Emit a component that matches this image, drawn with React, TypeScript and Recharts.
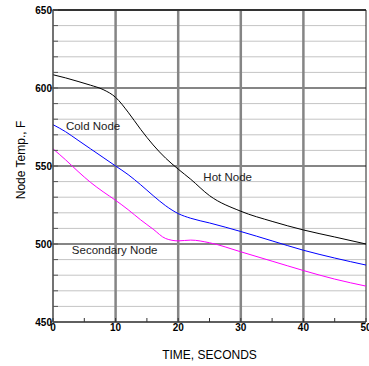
import {
  LineChart,
  Line,
  XAxis,
  YAxis,
  CartesianGrid,
  ReferenceLine,
  ReferenceDot,
  Label,
} from 'recharts';

const times = [0, 2, 4, 6, 8, 10, 12, 14, 16, 18, 20, 22, 25, 30, 35, 40, 45, 50];
const hotNode = [608.5, 606.5, 604.2, 601.8, 599, 594, 584.5, 573.5, 563.5, 555, 548, 541.5, 531, 521, 514.5, 509, 504.5, 500];
const coldNode = [576.5, 572, 566.5, 561, 555.5, 550, 544.5, 538, 531, 524.5, 519.5, 516.5, 513.5, 508, 502, 496, 491, 486.5];
const secondaryNode = [561, 554, 546.5, 539.5, 533.5, 528, 522, 515.5, 509.5, 503.5, 502, 502.5, 500.8, 495, 489, 483, 477.5, 473];

const xTicks = [0, 5, 10, 15, 20, 25, 30, 35, 40, 45, 50];
const yTicks = [450, 460, 470, 480, 490, 500, 510, 520, 530, 540, 550, 560, 570, 580, 590, 600, 610, 620, 630, 640, 650];
const majorX = [10, 20, 30, 40];
const majorY = [500, 550, 600];

const data = times.map((t, i) => ({
  t,
  hot: hotNode[i],
  cold: coldNode[i],
  sec: secondaryNode[i],
}));

const FONT = '"Liberation Sans", Arial, sans-serif';
const MAJOR = '#858585';
const MINOR = '#c4c4c4';

const BottomTick = (props: any) => {
  const { x, y, payload } = props;
  const v = payload.value;
  const major = v % 10 === 0;
  return (
    <g>
      <line x1={x} x2={x} y1={y} y2={y - 4} stroke="#333" />
      {major && (
        <text x={x} y={y + 9} textAnchor="middle" fontSize={10} fontWeight="bold" fontFamily={FONT} fill="#000">
          {v}
        </text>
      )}
    </g>
  );
};

const TopTick = (props: any) => {
  const { x, y } = props;
  return <line x1={x} x2={x} y1={y} y2={y + 4} stroke="#333" />;
};

const LeftTick = (props: any) => {
  const { x, y, payload } = props;
  const v = payload.value;
  const major = v % 50 === 0;
  return (
    <g>
      <line x1={major ? x - 3 : x} x2={x + 5} y1={y} y2={y} stroke="#555" />
      {major && (
        <text x={x - 1} y={y} dy="0.35em" textAnchor="end" fontSize={10} fontWeight="bold" fontFamily={FONT} fill="#000">
          {v}
        </text>
      )}
    </g>
  );
};

const App = () => {
  return (
    <div style={{ position: 'absolute', left: 0, top: 0, background: '#fff' }}>
      <LineChart width={369} height={366} data={data} margin={{ top: 10, right: 3, left: 0, bottom: 0 }}>
        <CartesianGrid vertical={false} stroke={MINOR} strokeWidth={1} />
        {majorY.map((v) => (
          <ReferenceLine key={'y' + v} y={v} stroke={MAJOR} strokeWidth={2} />
        ))}
        {majorX.map((v) => (
          <ReferenceLine key={'x' + v} x={v} stroke={MAJOR} strokeWidth={2.5} />
        ))}
        <ReferenceLine y={650} stroke="#333" strokeWidth={2} />
        <ReferenceLine x={50} stroke="#222" strokeWidth={1} />
        <XAxis
          dataKey="t"
          type="number"
          domain={[0, 50]}
          ticks={xTicks}
          height={44}
          tickSize={0}
          tickMargin={0}
          axisLine={{ stroke: '#333', strokeWidth: 1.5 }}
          tickLine={false}
          tick={<BottomTick />}
          interval={0}
        >
          <Label
            content={(p: any) => {
              const vb = p.viewBox;
              return (
                <text x={vb.x + vb.width / 2} y={vb.y + 37} textAnchor="middle" fontSize={12} fontFamily={FONT} fill="#000">
                  TIME, SECONDS
                </text>
              );
            }}
          />
        </XAxis>
        <XAxis
          xAxisId="top"
          orientation="top"
          type="number"
          domain={[0, 50]}
          ticks={xTicks}
          height={0}
          tickSize={0}
          tickMargin={0}
          axisLine={false}
          tickLine={false}
          tick={<TopTick />}
          interval={0}
        />
        <YAxis
          type="number"
          domain={[450, 650]}
          ticks={yTicks}
          width={53}
          tickSize={0}
          tickMargin={0}
          axisLine={{ stroke: '#444', strokeWidth: 1.5 }}
          tickLine={false}
          tick={<LeftTick />}
          interval={0}
        >
          <Label
            content={(p: any) => {
              const vb = p.viewBox;
              const cy = vb.y + vb.height / 2 - 6;
              return (
                <text x={21} y={cy} transform={`rotate(-90 21 ${cy})`} dy="0.35em" textAnchor="middle" fontSize={12} fontFamily={FONT} fill="#000">
                  Node Temp., F
                </text>
              );
            }}
          />
        </YAxis>
        <Line type="monotone" dataKey="hot" stroke="#000000" strokeWidth={1} dot={false} isAnimationActive={false} />
        <Line type="monotone" dataKey="cold" stroke="#0000ff" strokeWidth={1} dot={false} isAnimationActive={false} />
        <Line type="monotone" dataKey="sec" stroke="#ff00ff" strokeWidth={1} dot={false} isAnimationActive={false} />
        <ReferenceDot x={6.4} y={575.6} r={0} fill="none" stroke="none"
          label={{ value: 'Cold Node', position: 'center', fontSize: 11.5, fontFamily: FONT, fill: '#222' }} />
        <ReferenceDot x={27.9} y={543.2} r={0} fill="none" stroke="none"
          label={{ value: 'Hot Node', position: 'center', fontSize: 11.5, fontFamily: FONT, fill: '#222' }} />
        <ReferenceDot x={9.85} y={496.2} r={0} fill="none" stroke="none"
          label={{ value: 'Secondary Node', position: 'center', fontSize: 11.5, fontFamily: FONT, fill: '#222' }} />
      </LineChart>
    </div>
  );
};

export default App;
